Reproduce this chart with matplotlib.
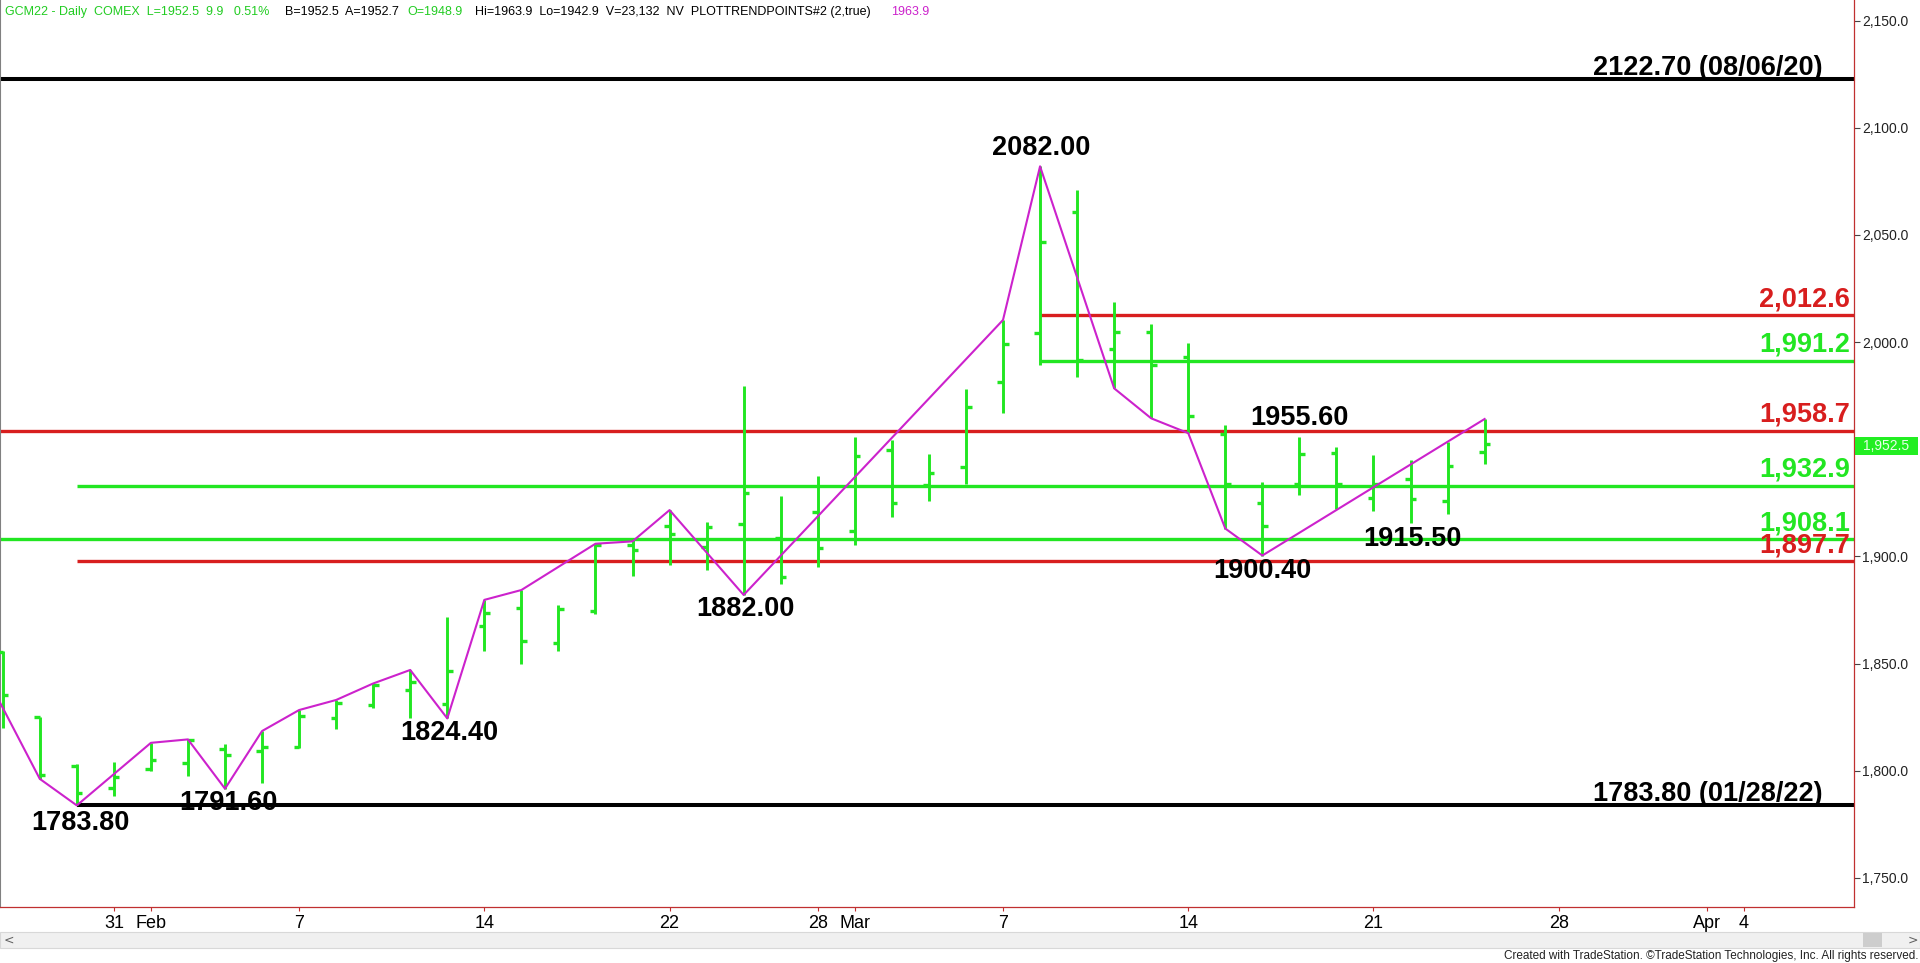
import matplotlib
matplotlib.use("Agg")
import matplotlib.pyplot as plt
from matplotlib.patches import Rectangle

# daily bars, GCM22, Jan 26 - Mar 24 2022 (trading-day index 0..40)
opens = [1855.3, 1825.0, 1802.2, 1792.0, 1801.0, 1803.4, 1810.2, 1809.2, 1811.2, 1824.7,
         1830.5, 1837.6, 1830.9, 1867.5, 1876.1, 1859.7, 1874.7, 1905.1, 1914.3, 1904.3,
         1915.1, 1908.8, 1920.9, 1911.9, 1949.4, 1933.5, 1941.7, 1981.2, 2004.0, 2060.8,
         1996.6, 2004.5, 1993.2, 1957.0, 1924.8, 1934.0, 1948.3, 1927.4, 1936.0, 1925.9,
         1948.9]
highs = [1855.8, 1825.2, 1802.9, 1804.0, 1813.0, 1814.6, 1812.6, 1818.5, 1828.3, 1833.0,
         1840.7, 1847.0, 1871.8, 1879.7, 1884.3, 1877.3, 1905.9, 1908.5, 1921.6, 1916.2,
         1979.3, 1928.4, 1937.7, 1955.6, 1954.4, 1947.9, 1978.3, 2010.3, 2082.0, 2070.8,
         2018.8, 2008.3, 1999.4, 1961.5, 1934.7, 1955.8, 1951.0, 1947.5, 1945.2, 1953.3,
         1963.9]
lows = [1820.0, 1796.2, 1783.8, 1788.2, 1799.8, 1797.5, 1791.6, 1794.4, 1810.7, 1819.3,
        1829.4, 1824.7, 1824.4, 1855.8, 1849.6, 1855.8, 1873.0, 1890.9, 1895.8, 1893.5,
        1882.0, 1887.2, 1894.9, 1905.3, 1918.5, 1925.8, 1934.0, 1967.1, 1989.3, 1983.9,
        1978.4, 1964.4, 1957.5, 1913.0, 1900.4, 1928.5, 1922.3, 1921.2, 1915.5, 1919.7,
        1942.9]
closes = [1835.3, 1797.8, 1789.7, 1797.0, 1805.0, 1814.3, 1807.1, 1811.2, 1825.5, 1831.4,
          1839.8, 1841.3, 1846.5, 1873.7, 1860.5, 1875.5, 1905.1, 1903.1, 1910.5, 1913.6,
          1929.4, 1890.3, 1903.7, 1947.0, 1924.7, 1938.9, 1969.5, 1999.1, 2046.8, 1991.6,
          2004.8, 1989.3, 1965.5, 1933.6, 1914.3, 1948.0, 1933.6, 1933.6, 1926.7, 1942.4,
          1952.5]

# trend points (bar index, price)
trend_x = [-1, 1, 2, 4, 5, 6, 7, 8, 9, 10, 11, 12, 13, 14, 16, 17, 18, 20, 27, 28,
           30, 31, 32, 33, 34, 40]
trend_y = [1862.6, 1796.2, 1783.8, 1813.0, 1814.6, 1791.6, 1818.5, 1828.3, 1833.0, 1840.7,
           1847.0, 1824.4, 1879.7, 1884.3, 1905.9, 1907.0, 1921.6, 1882.0, 2010.3, 2082.0,
           1978.4, 1964.4, 1957.5, 1913.0, 1900.4, 1964.1]

# pivot labels
pivot_text = ["1783.80", "1791.60", "1824.40", "1882.00", "2082.00", "1955.60", "1900.40", "1915.50"]
pivot_x = [2.09, 6.08, 12.05, 20.06, 28.02, 35.0, 34.0, 38.04]
pivot_y = [1775.5, 1784.9, 1817.5, 1875.4, 2090.5, 1964.5, 1893.1, 1908.1]

# horizontal levels
black_levels = [2122.70, 1783.80]
black_start = [None, 2]
black_text = ["2122.70 (08/06/20)", "1783.80 (01/28/22)"]
red_levels = [2012.6, 1958.7, 1897.7]
red_start = [28, None, 2]
green_levels = [1991.2, 1932.9, 1908.1]
green_start = [28, 2, None]

# x axis labels
xtick_pos = [3, 4, 8, 13, 18, 22, 23, 27, 32, 37, 42, 46, 47]
xtick_lab = ["31", "Feb", "7", "14", "22", "28", "Mar", "7", "14", "21", "28", "Apr", "4"]
yticks = [1750, 1800, 1850, 1900, 1950, 2000, 2050, 2100, 2150]
last_price = 1952.5

GREEN = "#22e622"
RED = "#d81e1e"
MAGENTA = "#cc22cc"
AXRED = "#c03030"
FONT = "Liberation Sans"

fig = plt.figure(figsize=(19.2, 9.63), dpi=100)
W, H = 1920, 963
ax = fig.add_axes([0, 1 - 907 / H, 1854 / W, 907 / H])
x0, x1 = -0.073, 49.97
ax.set_xlim(x0, x1)
ax.set_ylim(1736.4, 2159.6)

# levels
for lv, st in zip(black_levels, black_start):
    ax.hlines(lv, x0 if st is None else st, x1, color="black", lw=2.9, zorder=2)
for lv, st in zip(red_levels, red_start):
    ax.hlines(lv, x0 if st is None else st, x1, color=RED, lw=2.4, zorder=2)
for lv, st in zip(green_levels, green_start):
    ax.hlines(lv, x0 if st is None else st, x1, color=GREEN, lw=2.4, zorder=2)

# OHLC bars
idx = list(range(len(opens)))
tk = 0.15
ax.vlines(idx, lows, highs, color=GREEN, lw=2.1, zorder=3)
ax.hlines(opens, [i - tk for i in idx], idx, color=GREEN, lw=2.4, zorder=3)
ax.hlines(closes, idx, [i + tk for i in idx], color=GREEN, lw=2.4, zorder=3)

# trend line
ax.plot(trend_x, trend_y, color=MAGENTA, lw=1.5, zorder=4)

# labels
for t, x, y in zip(pivot_text, pivot_x, pivot_y):
    ax.text(x, y, t, ha="center", va="center", fontsize=19.5, fontweight="bold",
            family=FONT, color="black", zorder=5)
for t, lv in zip(black_text, black_levels):
    ax.text(49.13, lv + 1.9, t, ha="right", va="baseline", fontsize=19.5,
            fontweight="bold", family=FONT, color="black", zorder=5)
for lv in red_levels:
    ax.text(49.86, lv + 4.2, f"{lv:,.1f}", ha="right", va="baseline", fontsize=19.5,
            fontweight="bold", family=FONT, color=RED, zorder=5)
for lv in green_levels:
    ax.text(49.86, lv + 4.2, f"{lv:,.1f}", ha="right", va="baseline", fontsize=19.5,
            fontweight="bold", family=FONT, color=GREEN, zorder=5)

# axes styling
ax.spines["top"].set_visible(False)
ax.spines["left"].set_color("#808080")
ax.spines["right"].set_color(AXRED)
ax.spines["bottom"].set_color(AXRED)
ax.spines["right"].set_linewidth(0.9)
ax.spines["bottom"].set_linewidth(0.9)
ax.yaxis.tick_right()
ax.set_yticks(yticks)
# the 1,950.0 label sits under the last-price box in the original
ax.set_yticklabels(["" if v == 1950 else f"{v:,.1f}" for v in yticks],
                   family=FONT, fontsize=10, color="#222222")
ax.tick_params(axis="y", direction="out", length=4, width=0.8, color="#444444", pad=2)
ax.set_xticks(xtick_pos)
ax.set_xticklabels(xtick_lab, family=FONT, fontsize=13, color="black")
ax.tick_params(axis="x", direction="out", length=3, width=0.8, color=AXRED, pad=3)

# header
hy = 1 - 12 / H
parts = [("GCM22 - Daily  COMEX  L=1952.5  9.9   0.51%", 5, "#22cc22"),
         ("B=1952.5  A=1952.7", 285, "black"),
         ("O=1948.9", 407, "#22cc22"),
         ("Hi=1963.9  Lo=1942.9  V=23,132  NV  PLOTTRENDPOINTS#2 (2,true)", 475, "black"),
         ("1963.9", 891, MAGENTA)]
for t, px, c in parts:
    fig.text(px / W, hy, t, ha="left", va="center", fontsize=9, family=FONT, color=c)

# last price marker
py = 1 - 446 / H
fig.patches.append(Rectangle((1855 / W, 1 - 455 / H), 63 / W, 18 / H, transform=fig.transFigure,
                             fc="#22ee22", ec="none", zorder=5))
fig.text(1886 / W, py, f"{last_price:,.1f}", ha="center", va="center", fontsize=10,
         family=FONT, color="#e8ffe8", zorder=6)

# scrollbar and footer
fig.patches.append(Rectangle((0, 1 - 948 / H), 1, 16 / H, transform=fig.transFigure,
                             fc="#f0f0f0", ec="#d8d8d8", lw=0.8, zorder=5))
fig.patches.append(Rectangle((1863 / W, 1 - 947 / H), 19 / W, 14 / H, transform=fig.transFigure,
                             fc="#cdcdcd", ec="none", zorder=6))
fig.text(4 / W, 1 - 940 / H, "<", fontsize=9, color="#606060", va="center", zorder=7)
fig.text(1908 / W, 1 - 940 / H, ">", fontsize=9, color="#606060", va="center", zorder=7)
fig.text(1918 / W, 1 - 956 / H, "Created with TradeStation. \u00a9TradeStation Technologies, Inc. All rights reserved.",
         ha="right", va="center", fontsize=8.5, family=FONT, color="#222222")

fig.savefig("out.png", dpi=100)
